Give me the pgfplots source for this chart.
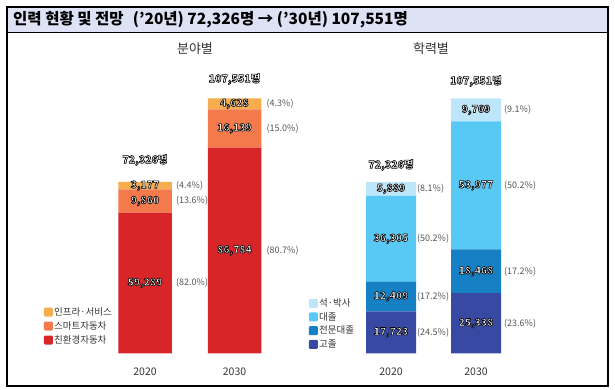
\documentclass[border=0pt]{standalone}
\usepackage{fontspec}
\setmainfont{Noto Sans CJK KR}
\usepackage{pgfplots}
\pgfplotsset{compat=1.18}
\definecolor{cInfra}{RGB}{247,172,78}
\definecolor{cSmart}{RGB}{244,122,76}
\definecolor{cRed}{RGB}{216,37,40}
\definecolor{cMaster}{RGB}{190,230,250}
\definecolor{cUniv}{RGB}{88,200,245}
\definecolor{cColl}{RGB}{22,128,196}
\definecolor{cHigh}{RGB}{56,73,163}
\definecolor{band}{RGB}{221,227,245}
\definecolor{pctgray}{RGB}{85,85,85}
\definecolor{txtgray}{RGB}{51,51,51}
\newcommand{\ol}[1]{\textcolor{white}{\special{pdf:literal q 0 G 2 Tr 0.6 w}#1\special{pdf:literal Q}}}
\tikzset{
  vlab/.style={font=\bfseries\fontsize{10.2}{11}\selectfont, inner sep=0pt},
  tlab/.style={font=\bfseries\fontsize{10.5}{12}\selectfont, inner sep=0pt},
  plab/.style={font=\fontsize{9}{11}\selectfont, text=pctgray, anchor=west, inner sep=0pt},
}
\pgfplotsset{
  frame/.style={
    scale only axis, height=308.2pt, ymin=0, ymax=130000,
    xmin=-0.5, xmax=1.5, enlargelimits=false, clip=false,
  },
  panel/.style={
    frame, ybar stacked,
    axis y line=none, axis x line*=bottom, x axis line style={draw=none},
    xtick={0,1}, xticklabels={2020,2030}, major tick length=0pt,
    xticklabel style={font=\fontsize{10.5}{12}\selectfont, text=txtgray, anchor=center, yshift=-18pt},
    legend style={draw=none, fill=none, font=\fontsize{9.5}{11}\selectfont, text=txtgray,
      cells={anchor=west}, nodes={inner xsep=1.2pt, inner ysep=0pt, text height=8pt, text depth=1.5pt}},
    legend image code/.code={\fill[#1, rounded corners=1.2pt] (0pt,-4.5pt) rectangle (9pt,4.5pt);},
    reverse legend,
  },
  labels/.style={frame, hide axis},
}
\begin{document}
\begin{tikzpicture}
% frame and header
\fill[band] (7pt,-7pt) rectangle (608pt,-32pt);
\draw[line width=0.6pt] (7pt,-32pt) -- (608pt,-32pt);
\draw[line width=1.4pt] (7pt,-7pt) rectangle (608pt,-386pt);
\node[anchor=west, inner sep=0pt, font=\bfseries\fontsize{15.5}{17}\selectfont] at (13pt,-19.5pt)
  {인력 현황 및 전망\hspace{0.6em}('20년) 72,326명 → ('30년) 107,551명};
\node[font=\fontsize{13}{15}\selectfont, text=txtgray] at (195pt,-49pt) {분야별};
\node[font=\fontsize{13}{15}\selectfont, text=txtgray] at (431pt,-49pt) {학력별};

% left panel
\begin{axis}[panel, width=179pt, bar width=53.5pt, at={(100.25pt,-353.3pt)}, anchor=south west,
  legend style={at={(-0.333,0.0886)}, anchor=west, row sep=4.5pt}]
\addplot[fill=cRed, draw=none] coordinates {(0,59289) (1,86784)};
\addlegendentry{친환경자동차}
\addplot[fill=cSmart, draw=none] coordinates {(0,9860) (1,16139)};
\addlegendentry{스마트자동차}
\addplot[fill=cInfra, draw=none] coordinates {(0,3177) (1,4628)};
\addlegendentry{인프라·서비스}
\end{axis}
\begin{axis}[labels, width=179pt, at={(100.25pt,-353.3pt)}, anchor=south west]
\node[vlab] at (axis cs:0,29644.5) {\ol{59,289}};
\node[vlab] at (axis cs:0,64219) {\ol{9,860}};
\node[vlab] at (axis cs:0,70737.5) {\ol{3,177}};
\node[vlab] at (axis cs:1,43392) {\ol{86,784}};
\node[vlab] at (axis cs:1,94853.5) {\ol{16,139}};
\node[vlab] at (axis cs:1,105237) {\ol{4,628}};
\node[plab, xshift=31pt] at (axis cs:0,29644.5) {(82.0\%)};
\node[plab, xshift=31pt] at (axis cs:0,64219) {(13.6\%)};
\node[plab, xshift=31pt] at (axis cs:0,70737.5) {(4.4\%)};
\node[plab, xshift=32pt] at (axis cs:1,43392) {(80.7\%)};
\node[plab, xshift=32pt] at (axis cs:1,94853.5) {(15.0\%)};
\node[plab, xshift=32pt] at (axis cs:1,105237) {(4.3\%)};
\node[tlab] at (axis cs:0,81527) {\ol{72,326명}};
\node[tlab] at (axis cs:1,115690) {\ol{107,551명}};
\end{axis}

% right panel
\begin{axis}[panel, width=170pt, bar width=50pt, at={(348.5pt,-353.3pt)}, anchor=south west,
  legend style={at={(-0.252,0.0957)}, anchor=west, row sep=4.2pt}]
\addplot[fill=cHigh, draw=none] coordinates {(0,17723) (1,25338)};
\addlegendentry{고졸}
\addplot[fill=cColl, draw=none] coordinates {(0,12409) (1,18468)};
\addlegendentry{전문대졸}
\addplot[fill=cUniv, draw=none] coordinates {(0,36305) (1,53977)};
\addlegendentry{대졸}
\addplot[fill=cMaster, draw=none] coordinates {(0,5889) (1,9769)};
\addlegendentry{석·박사}
\end{axis}
\begin{axis}[labels, width=170pt, at={(348.5pt,-353.3pt)}, anchor=south west]
\node[vlab] at (axis cs:0,8861.5) {\ol{17,723}};
\node[vlab] at (axis cs:0,23927.5) {\ol{12,409}};
\node[vlab] at (axis cs:0,48284.5) {\ol{36,305}};
\node[vlab] at (axis cs:0,69381.5) {\ol{5,889}};
\node[vlab] at (axis cs:1,12669) {\ol{25,338}};
\node[vlab] at (axis cs:1,34572) {\ol{18,468}};
\node[vlab] at (axis cs:1,70794.5) {\ol{53,977}};
\node[vlab] at (axis cs:1,102667.5) {\ol{9,769}};
\node[plab, xshift=26pt] at (axis cs:0,8861.5) {(24.5\%)};
\node[plab, xshift=26pt] at (axis cs:0,23927.5) {(17.2\%)};
\node[plab, xshift=26pt] at (axis cs:0,48284.5) {(50.2\%)};
\node[plab, xshift=26pt] at (axis cs:0,69381.5) {(8.1\%)};
\node[plab, xshift=28pt] at (axis cs:1,12669) {(23.6\%)};
\node[plab, xshift=28pt] at (axis cs:1,34572) {(17.2\%)};
\node[plab, xshift=28pt] at (axis cs:1,70794.5) {(50.2\%)};
\node[plab, xshift=28pt] at (axis cs:1,102667.5) {(9.1\%)};
\node[tlab] at (axis cs:0,79418) {\ol{72,326명}};
\node[tlab] at (axis cs:1,114846) {\ol{107,551명}};
\end{axis}
\pgfresetboundingbox
\path[use as bounding box] (0pt,0pt) rectangle (615pt,-389pt);
\end{tikzpicture}
\end{document}
